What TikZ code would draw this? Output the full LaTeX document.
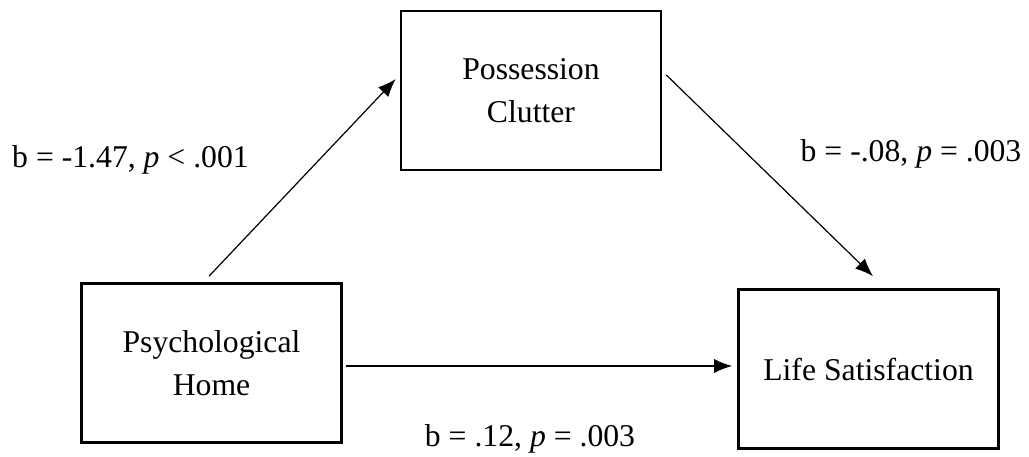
\documentclass[tikz,border=0pt]{standalone}
\usepackage{fontspec}
\setmainfont{Liberation Serif}
\usetikzlibrary{arrows.meta}
\usetikzlibrary{calc}

\begin{document}
\begin{tikzpicture}[x=1pt, y=-1pt,
        box/.style={draw, line width=2.6pt, minimum width=260pt, minimum height=159pt, align=center, font=\fontsize{31.7}{43}\selectfont},
        lab/.style={anchor=base, font=\fontsize{31.7}{38}\selectfont},
        path/.style={line width=1.2pt, -{Latex[length=18pt, width=14pt]}}]
        \useasboundingbox (0,0) rectangle (1029,457);
        \node[box] (clutter) at (531,90.5) {Possession\\Clutter};
        \node[box] (home) at (211.5,363) {Psychological\\Home};
        \node[box] (life) at (868.5,369) {Life Satisfaction};

        \draw[path] ($(home.north)+(-2.5,-6)$) -- ($(clutter.west)+(-4,-11.5)$);
        \draw[path] ($(clutter.east)+(4,-15.5)$) -- ($(life.north)+(4.5,-12)$);
        \draw[path] ($(home.east)+(3,3)$) -- ($(life.west)+(-5,-3)$);

        \node[lab] (a) at (130.5,168) {b = -1.47, \textit{p} < .001};
        \node[lab] (b) at (911,162) {b = -.08, \textit{p} = .003};
        \node[lab] (c) at (530,446) {b = .12, \textit{p} = .003};
    \end{tikzpicture}
\end{document}
